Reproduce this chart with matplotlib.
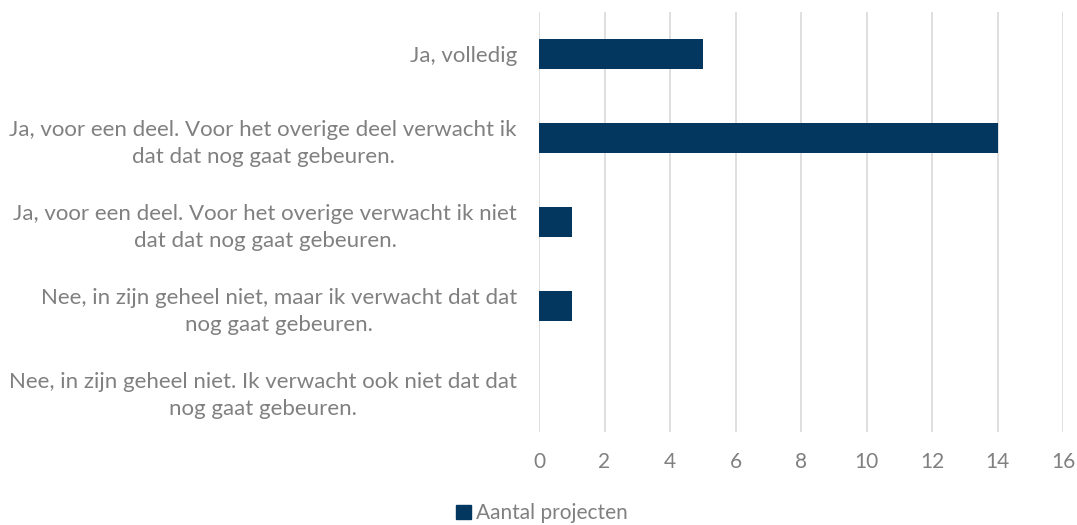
import matplotlib
matplotlib.use("Agg")
import matplotlib.pyplot as plt
from matplotlib.patches import Patch

# --- Data ---
categories = [
    "Ja, volledig",
    "Ja, voor een deel. Voor het overige deel verwacht ik\ndat dat nog gaat gebeuren.",
    "Ja, voor een deel. Voor het overige verwacht ik niet\ndat dat nog gaat gebeuren.",
    "Nee, in zijn geheel niet, maar ik verwacht dat dat\nnog gaat gebeuren.",
    "Nee, in zijn geheel niet. Ik verwacht ook niet dat dat\nnog gaat gebeuren.",
]
aantal = [5, 14, 1, 1, 0]
x_ticks = [0, 2, 4, 6, 8, 10, 12, 14, 16]
series_name = "Aantal projecten"

BAR = "#03375F"
TXT = "#808080"
GRID = "#D9D9D9"

plt.rcParams['font.family'] = ['Lato', 'DejaVu Sans']

fig = plt.figure(figsize=(10.77, 5.25), dpi=100)
ax = fig.add_axes([0.5005, 0.177, 0.4865, 0.8])

pos = list(range(len(categories)))
ax.barh(pos, aantal, height=0.36, color=BAR, linewidth=0, zorder=3)
ax.set_ylim(len(categories) - 0.5, -0.5)
ax.set_xlim(0, 16)
ax.set_xticks(x_ticks)
ax.set_xticklabels([str(t) for t in x_ticks], fontsize=15, color=TXT)
ax.set_yticks(pos)
ax.set_yticklabels(categories, fontsize=16, color=TXT, multialignment="center",
                   linespacing=1.45)
ax.tick_params(axis="both", length=0)
ax.tick_params(axis="x", pad=14)
ax.tick_params(axis="y", pad=16)
ax.grid(axis="x", color=GRID, linewidth=1.2, zorder=0)
for s in ax.spines.values():
    s.set_visible(False)

fig.legend(handles=[Patch(color=BAR, label=series_name)], loc="center",
           bbox_to_anchor=(0.503, 0.022), frameon=False, fontsize=15,
           labelcolor=TXT, handlelength=0.7, handleheight=0.7, handletextpad=0.25)

fig.savefig("out.png", dpi=100)
